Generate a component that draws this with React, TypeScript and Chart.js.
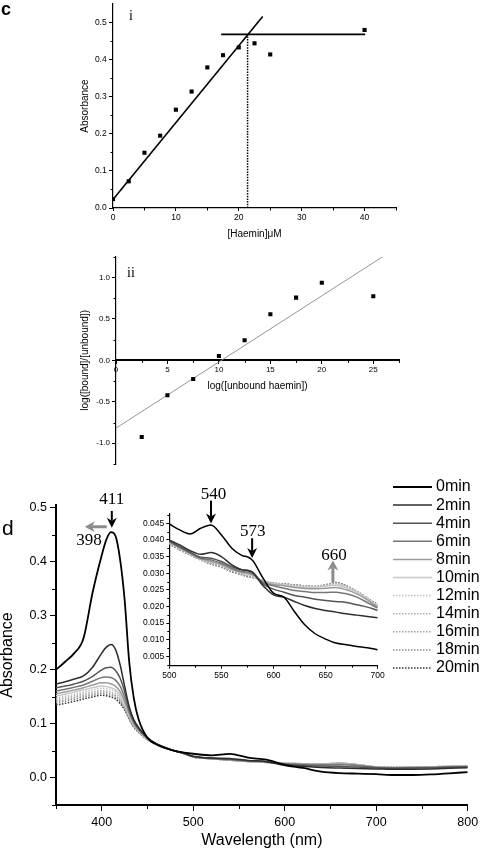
import React, { useEffect, useRef } from 'react';
import { Chart, registerables } from 'chart.js';

Chart.register(...registerables);

const SANS = '"Liberation Sans", Arial, Helvetica, sans-serif';
const SERIF = '"Liberation Serif", "Times New Roman", serif';

// ---------- Panel c (i): absorbance vs haemin ----------
const HAEMIN_UM = [0, 2.5, 5, 7.5, 10, 12.5, 15, 17.5, 20, 22.5, 25, 40];
const ABSORBANCE_I = [0.024, 0.072, 0.149, 0.195, 0.265, 0.314, 0.379, 0.412, 0.433, 0.444, 0.414, 0.48];
const FIT_I_X = [0, 23.8];
const FIT_I_Y = [0.023, 0.516];
const PLATEAU_X = [17.2, 40.1];
const PLATEAU_Y = [0.468, 0.468];
const BREAK_X = [21.4, 21.4];
const BREAK_Y = [0, 0.468];
const I_X_TICKS = [0, 10, 20, 30, 40];
const I_X_MINOR = [5, 15, 25, 35, 45];
const I_Y_TICKS = [0, 0.1, 0.2, 0.3, 0.4, 0.5];
const I_Y_MINOR = [0.05, 0.15, 0.25, 0.35, 0.45];

// ---------- Panel c (ii): log plot ----------
const UNBOUND_X = [2.5, 5, 7.5, 10, 12.5, 15, 17.5, 20, 25];
const LOG_RATIO = [-0.925, -0.42, -0.225, 0.053, 0.242, 0.556, 0.757, 0.935, 0.773];
const FIT_II_X = [0, 25.9];
const FIT_II_Y = [-0.817, 1.249];
const II_X_TICKS = [0, 5, 10, 15, 20, 25];
const II_X_MINOR = [2.5, 7.5, 12.5, 17.5, 22.5, 27.5];
const II_Y_TICKS = [-1, -0.5, 0, 0.5, 1];
const II_Y_MINOR = [-1.25, -0.75, -0.25, 0.25, 0.75, 1.25];

// ---------- Panel d: spectra ----------
const TIME_LABELS = ['0min', '2min', '4min', '6min', '8min', '10min', '12min', '14min', '16min', '18min', '20min'];
const WAVELENGTH = [350, 360, 370, 380, 390, 400, 405, 410, 415, 420, 425, 430, 435, 440, 450, 460, 470, 480, 490,
  500, 520, 540, 560, 580, 600, 620, 640, 660, 680, 700, 720, 740, 760, 780, 800];
const ABS_0 = [0.200, 0.215, 0.231, 0.258, 0.343, 0.412, 0.441, 0.455, 0.448, 0.405, 0.330, 0.215, 0.148, 0.110, 0.074, 0.062, 0.055, 0.050, 0.047,
  0.0448, 0.0418, 0.0445, 0.0375, 0.0338, 0.0240, 0.0185, 0.0118, 0.0090, 0.0080, 0.0070, 0.0055, 0.0055, 0.0065, 0.0085, 0.0110];
const ABS_2 = [0.174, 0.178, 0.183, 0.189, 0.205, 0.231, 0.242, 0.247, 0.238, 0.210, 0.170, 0.132, 0.108, 0.094, 0.075, 0.063, 0.056, 0.050, 0.046,
  0.0400, 0.0368, 0.0362, 0.0325, 0.0302, 0.0235, 0.0215, 0.0194, 0.0183, 0.0174, 0.0166, 0.0160, 0.0162, 0.0168, 0.0178, 0.0188];
const ABS_4 = [0.167, 0.170, 0.174, 0.179, 0.188, 0.200, 0.204, 0.205, 0.199, 0.185, 0.160, 0.128, 0.106, 0.092, 0.074, 0.063, 0.056, 0.050, 0.045,
  0.0397, 0.0363, 0.0345, 0.0320, 0.0303, 0.0252, 0.0233, 0.0222, 0.0215, 0.0205, 0.0188, 0.0180, 0.0183, 0.0190, 0.0198, 0.0205];
const ABS_6 = [0.161, 0.164, 0.168, 0.172, 0.179, 0.186, 0.187, 0.186, 0.181, 0.170, 0.150, 0.123, 0.103, 0.090, 0.073, 0.062, 0.055, 0.050, 0.045,
  0.0395, 0.0361, 0.0340, 0.0315, 0.0298, 0.0262, 0.0248, 0.0242, 0.0243, 0.0228, 0.0195, 0.0185, 0.0190, 0.0196, 0.0204, 0.0210];
const ABS_8 = [0.156, 0.159, 0.163, 0.167, 0.172, 0.176, 0.176, 0.174, 0.170, 0.160, 0.142, 0.119, 0.101, 0.089, 0.073, 0.062, 0.055, 0.050, 0.045,
  0.0393, 0.0359, 0.0336, 0.0312, 0.0295, 0.0266, 0.0257, 0.0253, 0.0257, 0.0238, 0.0198, 0.0189, 0.0194, 0.0200, 0.0208, 0.0213];
const ABS_10 = [0.152, 0.155, 0.159, 0.163, 0.167, 0.170, 0.169, 0.167, 0.163, 0.154, 0.138, 0.116, 0.099, 0.088, 0.072, 0.062, 0.055, 0.050, 0.045,
  0.0392, 0.0358, 0.0334, 0.0310, 0.0293, 0.0268, 0.0260, 0.0258, 0.0264, 0.0243, 0.0200, 0.0191, 0.0196, 0.0202, 0.0210, 0.0215];
const ABS_12 = [0.148, 0.151, 0.155, 0.159, 0.163, 0.166, 0.165, 0.163, 0.159, 0.150, 0.135, 0.114, 0.098, 0.087, 0.072, 0.062, 0.055, 0.050, 0.045,
  0.0391, 0.0357, 0.0332, 0.0309, 0.0291, 0.0269, 0.0262, 0.0259, 0.0267, 0.0244, 0.0201, 0.0192, 0.0197, 0.0203, 0.0211, 0.0216];
const ABS_14 = [0.145, 0.148, 0.152, 0.156, 0.159, 0.162, 0.161, 0.159, 0.155, 0.147, 0.132, 0.112, 0.097, 0.087, 0.072, 0.062, 0.055, 0.050, 0.045,
  0.0390, 0.0356, 0.0331, 0.0308, 0.0290, 0.0269, 0.0263, 0.0260, 0.0269, 0.0245, 0.0202, 0.0193, 0.0198, 0.0204, 0.0212, 0.0217];
const ABS_16 = [0.142, 0.145, 0.149, 0.153, 0.156, 0.159, 0.158, 0.156, 0.152, 0.144, 0.130, 0.111, 0.096, 0.086, 0.071, 0.062, 0.055, 0.050, 0.045,
  0.0389, 0.0356, 0.0330, 0.0307, 0.0289, 0.0270, 0.0264, 0.0260, 0.0270, 0.0245, 0.0203, 0.0194, 0.0199, 0.0205, 0.0213, 0.0218];
const ABS_18 = [0.139, 0.142, 0.146, 0.150, 0.153, 0.156, 0.155, 0.153, 0.149, 0.141, 0.128, 0.110, 0.095, 0.086, 0.071, 0.062, 0.055, 0.050, 0.045,
  0.0389, 0.0355, 0.0329, 0.0306, 0.0288, 0.0270, 0.0264, 0.0260, 0.0271, 0.0245, 0.0204, 0.0195, 0.0200, 0.0206, 0.0214, 0.0219];
const ABS_20 = [0.135, 0.138, 0.142, 0.146, 0.150, 0.153, 0.152, 0.150, 0.146, 0.138, 0.126, 0.109, 0.094, 0.085, 0.071, 0.062, 0.055, 0.050, 0.045,
  0.0388, 0.0355, 0.0328, 0.0305, 0.0287, 0.0270, 0.0265, 0.0260, 0.0272, 0.0245, 0.0205, 0.0196, 0.0201, 0.0207, 0.0215, 0.0220];
const D_X_TICKS = [400, 500, 600, 700, 800];
const D_X_MINOR = [350, 450, 550, 650, 750];
const D_Y_TICKS = [0, 0.1, 0.2, 0.3, 0.4, 0.5];
const D_Y_MINOR = [-0.05, 0.05, 0.15, 0.25, 0.35, 0.45];

// ---------- Inset (500-700 nm) ----------
const INSET_WAVELENGTH = [500, 510, 520, 530, 540, 550, 560, 570, 575, 580, 590, 600, 610, 620, 630, 640, 650, 660, 670, 680, 690, 700];
const IN_0 = [0.0448, 0.0430, 0.0418, 0.0435, 0.0445, 0.0415, 0.0375, 0.0353, 0.0349, 0.0338, 0.0285, 0.0240, 0.0228, 0.0185, 0.0145, 0.0118, 0.0102, 0.0090, 0.0085, 0.0080, 0.0076, 0.0070];
const IN_2 = [0.0400, 0.0385, 0.0368, 0.0357, 0.0362, 0.0350, 0.0325, 0.0310, 0.0308, 0.0302, 0.0262, 0.0235, 0.0228, 0.0215, 0.0203, 0.0194, 0.0188, 0.0183, 0.0178, 0.0174, 0.0170, 0.0166];
const IN_4 = [0.0397, 0.0380, 0.0363, 0.0348, 0.0345, 0.0335, 0.0320, 0.0310, 0.0309, 0.0303, 0.0268, 0.0252, 0.0243, 0.0233, 0.0228, 0.0222, 0.0218, 0.0215, 0.0212, 0.0205, 0.0198, 0.0188];
const IN_6 = [0.0395, 0.0378, 0.0361, 0.0345, 0.0340, 0.0330, 0.0315, 0.0305, 0.0303, 0.0298, 0.0272, 0.0262, 0.0255, 0.0248, 0.0245, 0.0242, 0.0242, 0.0243, 0.0238, 0.0228, 0.0212, 0.0195];
const IN_8 = [0.0393, 0.0376, 0.0359, 0.0343, 0.0336, 0.0326, 0.0312, 0.0302, 0.0300, 0.0295, 0.0274, 0.0266, 0.0262, 0.0257, 0.0254, 0.0253, 0.0255, 0.0257, 0.0250, 0.0238, 0.0220, 0.0198];
const IN_10 = [0.0392, 0.0375, 0.0358, 0.0342, 0.0334, 0.0324, 0.0310, 0.0300, 0.0298, 0.0293, 0.0275, 0.0268, 0.0264, 0.0260, 0.0258, 0.0258, 0.0261, 0.0264, 0.0256, 0.0243, 0.0223, 0.0200];
const IN_12 = [0.0391, 0.0374, 0.0357, 0.0341, 0.0332, 0.0322, 0.0309, 0.0299, 0.0296, 0.0291, 0.0276, 0.0269, 0.0265, 0.0262, 0.0260, 0.0259, 0.0263, 0.0267, 0.0258, 0.0244, 0.0224, 0.0201];
const IN_14 = [0.0390, 0.0373, 0.0356, 0.0341, 0.0331, 0.0321, 0.0308, 0.0298, 0.0294, 0.0290, 0.0276, 0.0269, 0.0266, 0.0263, 0.0261, 0.0260, 0.0264, 0.0269, 0.0260, 0.0245, 0.0224, 0.0202];
const IN_16 = [0.0389, 0.0372, 0.0356, 0.0340, 0.0330, 0.0320, 0.0307, 0.0297, 0.0293, 0.0289, 0.0277, 0.0270, 0.0267, 0.0264, 0.0261, 0.0260, 0.0265, 0.0270, 0.0261, 0.0245, 0.0225, 0.0203];
const IN_18 = [0.0389, 0.0371, 0.0355, 0.0340, 0.0329, 0.0319, 0.0306, 0.0296, 0.0291, 0.0288, 0.0277, 0.0270, 0.0267, 0.0264, 0.0262, 0.0260, 0.0265, 0.0271, 0.0261, 0.0245, 0.0225, 0.0204];
const IN_20 = [0.0388, 0.0370, 0.0355, 0.0340, 0.0328, 0.0318, 0.0305, 0.0295, 0.0290, 0.0287, 0.0278, 0.0270, 0.0268, 0.0265, 0.0262, 0.0260, 0.0265, 0.0272, 0.0262, 0.0245, 0.0225, 0.0205];
const IN_X_TICKS = [500, 550, 600, 650, 700];
const IN_X_MINOR = [525, 575, 625, 675];
const IN_Y_TICKS = [0.005, 0.01, 0.015, 0.02, 0.025, 0.03, 0.035, 0.04, 0.045];
const IN_Y_MINOR = [0.0025, 0.0075, 0.0125, 0.0175, 0.0225, 0.0275, 0.0325, 0.0375, 0.0425, 0.0475];

const MAIN_SERIES = [ABS_0, ABS_2, ABS_4, ABS_6, ABS_8, ABS_10, ABS_12, ABS_14, ABS_16, ABS_18, ABS_20];
const INSET_SERIES = [IN_0, IN_2, IN_4, IN_6, IN_8, IN_10, IN_12, IN_14, IN_16, IN_18, IN_20];

// line styles (kept apart from data)
const LINE_STYLES = [
  { color: '#000000', width: 1.8, dash: [] as number[] },
  { color: '#2e2e2e', width: 1.5, dash: [] as number[] },
  { color: '#555555', width: 1.5, dash: [] as number[] },
  { color: '#777777', width: 1.5, dash: [] as number[] },
  { color: '#9c9c9c', width: 1.5, dash: [] as number[] },
  { color: '#c8c8c8', width: 1.5, dash: [] as number[] },
  { color: '#c0c0c0', width: 1.5, dash: [1.5, 1.5] },
  { color: '#b0b0b0', width: 1.5, dash: [1.5, 1.5] },
  { color: '#a0a0a0', width: 1.5, dash: [1.5, 1.5] },
  { color: '#8c8c8c', width: 1.5, dash: [1.5, 1.5] },
  { color: '#333333', width: 1.5, dash: [1.5, 1.5] },
];

type Pt = { x: number; y: number };
const pts = (xs: number[], ys: number[]): Pt[] => xs.map((x, i) => ({ x, y: ys[i] }));
const fmt = (d: number) => (v: number | string) => Number(v).toFixed(d);

function axis(o: any) {
  return {
    type: 'linear',
    min: o.min,
    max: o.max,
    ...(o.position ? { position: o.position } : {}),
    afterBuildTicks: (s: any) => {
      s.ticks = o.ticks.map((v: number) => ({ value: v }));
    },
    afterFit: (s: any) => {
      if (s.isHorizontal()) s.height = o.size;
      else s.width = o.size;
      s.paddingTop = 0;
      s.paddingBottom = 0;
      s.paddingLeft = 0;
      s.paddingRight = 0;
    },
    ticks: {
      callback: (v: any) => o.fmt(v),
      font: { family: SANS, size: o.font },
      color: '#000',
      padding: o.pad,
      maxRotation: 0,
      minRotation: 0,
      autoSkip: false,
    },
    grid: { drawOnChartArea: false, drawTicks: true, tickLength: o.tickLen, tickColor: '#000', tickWidth: 1 },
    border: { display: true, color: '#000', width: o.border },
    title: o.title
      ? {
          display: true,
          text: o.title.text,
          color: '#000',
          font: { family: SANS, size: o.title.size, lineHeight: o.title.lh ?? 1.2 },
          padding: { top: o.title.pt ?? 0, bottom: o.title.pb ?? 0 },
        }
      : { display: false },
  };
}

type MinorSpec = { axis: 'x' | 'y'; values: number[]; len: number; atY?: number };
function minorTicks(items: MinorSpec[]) {
  return {
    id: 'minorTicks',
    afterDraw(chart: any) {
      const ctx = chart.ctx as CanvasRenderingContext2D;
      const area = chart.chartArea;
      ctx.save();
      ctx.strokeStyle = '#000';
      ctx.lineWidth = 1;
      ctx.beginPath();
      for (const it of items) {
        const s = chart.scales[it.axis];
        for (const v of it.values) {
          if (it.axis === 'x') {
            const x = Math.round(s.getPixelForValue(v)) + 0.5;
            const y0 = it.atY !== undefined ? chart.scales.y.getPixelForValue(it.atY) : area.bottom;
            ctx.moveTo(x, y0);
            ctx.lineTo(x, y0 + it.len);
          } else {
            const y = Math.round(s.getPixelForValue(v)) + 0.5;
            ctx.moveTo(area.left, y);
            ctx.lineTo(area.left - it.len, y);
          }
        }
      }
      ctx.stroke();
      ctx.restore();
    },
  };
}

function overlay(draw: (chart: any, ctx: CanvasRenderingContext2D) => void) {
  return {
    id: 'overlay',
    afterDraw(chart: any) {
      const ctx = chart.ctx as CanvasRenderingContext2D;
      ctx.save();
      draw(chart, ctx);
      ctx.restore();
    },
  };
}

function drawText(ctx: CanvasRenderingContext2D, s: string, x: number, y: number, font: string, align: CanvasTextAlign = 'center', baseline: CanvasTextBaseline = 'middle', color = '#000') {
  ctx.font = font;
  ctx.fillStyle = color;
  ctx.textAlign = align;
  ctx.textBaseline = baseline;
  ctx.fillText(s, x, y);
}

function drawArrow(ctx: CanvasRenderingContext2D, x1: number, y1: number, x2: number, y2: number, color: string, width: number, headLen: number, headHalf: number) {
  const a = Math.atan2(y2 - y1, x2 - x1);
  const c = Math.cos(a);
  const s = Math.sin(a);
  const bx = x2 - headLen * c;
  const by = y2 - headLen * s;
  const nx = x2 - headLen * 0.7 * c;
  const ny = y2 - headLen * 0.7 * s;
  ctx.strokeStyle = color;
  ctx.fillStyle = color;
  ctx.lineWidth = width;
  ctx.beginPath();
  ctx.moveTo(x1, y1);
  ctx.lineTo(nx, ny);
  ctx.stroke();
  ctx.beginPath();
  ctx.moveTo(x2, y2);
  ctx.lineTo(bx - headHalf * s, by + headHalf * c);
  ctx.lineTo(nx, ny);
  ctx.lineTo(bx + headHalf * s, by - headHalf * c);
  ctx.closePath();
  ctx.fill();
}

const baseOptions = (padding: any) => ({
  responsive: false,
  animation: false,
  events: [] as string[],
  layout: { padding },
  plugins: { legend: { display: false }, tooltip: { enabled: false } },
});

// ---------- configs ----------
const panelIConfig = () => ({
  type: 'scatter',
  data: {
    datasets: [
      { data: pts(HAEMIN_UM, ABSORBANCE_I), pointStyle: 'rect', pointRadius: 2.9, backgroundColor: '#000', borderColor: '#000', borderWidth: 0, showLine: false },
      { data: pts(FIT_I_X, FIT_I_Y), showLine: true, borderColor: '#000', borderWidth: 1.6, pointRadius: 0 },
      { data: pts(PLATEAU_X, PLATEAU_Y), showLine: true, borderColor: '#000', borderWidth: 1.6, pointRadius: 0 },
      { data: pts(BREAK_X, BREAK_Y), showLine: true, borderColor: '#000', borderWidth: 1.5, borderDash: [1.5, 1.2], pointRadius: 0 },
    ],
  },
  options: {
    ...baseOptions({ left: 0, top: 0, right: 84, bottom: 2 }),
    scales: {
      x: axis({ min: 0, max: 45, ticks: I_X_TICKS, fmt: fmt(0), size: 32, font: 8.5, tickLen: 3, pad: 2, border: 1.2, title: { text: '[Haemin]μM', size: 10, pb: 0 } }),
      y: axis({ min: 0, max: 0.55, ticks: I_Y_TICKS, fmt: fmt(1), size: 113, font: 8.5, tickLen: 4, pad: 2.3, border: 1.2, title: { text: 'Absorbance', size: 10, pt: 79 } }),
    },
  },
  plugins: [
    minorTicks([
      { axis: 'x', values: I_X_MINOR, len: 2.5 },
      { axis: 'y', values: I_Y_MINOR, len: 2.5 },
    ]),
    overlay((chart, ctx) => {
      drawText(ctx, 'c', 1, 15, `bold 18px ${SANS}`, 'left', 'alphabetic');
      drawText(ctx, 'i', chart.chartArea.left + 16, 20, `14px ${SERIF}`, 'left', 'alphabetic');
    }),
  ],
});

const panelIIConfig = () => ({
  type: 'scatter',
  data: {
    datasets: [
      { data: pts(UNBOUND_X, LOG_RATIO), pointStyle: 'rect', pointRadius: 2.9, backgroundColor: '#000', borderColor: '#000', borderWidth: 0, showLine: false },
      { data: pts(FIT_II_X, FIT_II_Y), showLine: true, borderColor: '#8a8a8a', borderWidth: 0.9, pointRadius: 0 },
    ],
  },
  options: {
    ...baseOptions({ left: 0, top: 12.7, right: 81, bottom: 6 }),
    scales: {
      x: axis({ min: 0, max: 27.5, position: { y: 0 }, ticks: II_X_TICKS, fmt: fmt(0), size: 40, font: 8, tickLen: 3, pad: 2, border: 2, title: { text: 'log([unbound haemin])', size: 10, pb: 8.3 } }),
      y: axis({ min: -1.25, max: 1.25, ticks: II_Y_TICKS, fmt: fmt(1), size: 116, font: 8, tickLen: 4, pad: 2, border: 1.2, title: { text: 'log([bound]/[unbound])', size: 10, pt: 79 } }),
    },
  },
  plugins: [
    minorTicks([
      { axis: 'x', values: II_X_MINOR, len: 2.5, atY: 0 },
      { axis: 'y', values: II_Y_MINOR, len: 2.5 },
    ]),
    overlay((chart, ctx) => {
      drawText(ctx, 'ii', chart.chartArea.left + 11, 33, `14px ${SERIF}`, 'left', 'alphabetic');
    }),
  ],
});

const mainConfig = () => ({
  type: 'line',
  data: {
    datasets: MAIN_SERIES.map((s, i) => ({
      label: TIME_LABELS[i],
      data: pts(WAVELENGTH, s),
      borderColor: LINE_STYLES[i].color,
      borderWidth: LINE_STYLES[i].width,
      borderDash: LINE_STYLES[i].dash,
      pointRadius: 0,
      fill: false,
      cubicInterpolationMode: 'monotone',
    })),
  },
  options: {
    ...baseOptions({ left: 0, top: 35, right: 12.3, bottom: 0 }),
    scales: {
      x: axis({ min: 350, max: 800, ticks: D_X_TICKS, fmt: fmt(0), size: 45, font: 12.5, tickLen: 6, pad: 4, border: 2, title: { text: 'Wavelength (nm)', size: 16, pb: 0 } }),
      y: axis({ min: -0.05, max: 0.505, ticks: D_Y_TICKS, fmt: fmt(1), size: 56, font: 12.5, tickLen: 6, pad: 3, border: 2, title: { text: 'Absorbance', size: 16, lh: 1, pt: 0 } }),
    },
  },
  plugins: [
    minorTicks([
      { axis: 'x', values: D_X_MINOR, len: 4 },
      { axis: 'y', values: D_Y_MINOR, len: 4 },
    ]),
    overlay((chart, ctx) => {
      const xs = chart.scales.x;
      const ys = chart.scales.y;
      const X = (v: number) => xs.getPixelForValue(v);
      const Y = (v: number) => ys.getPixelForValue(v);
      drawText(ctx, 'd', 2, 65, `21px ${SANS}`, 'left', 'alphabetic');
      // 411 peak arrow
      drawArrow(ctx, X(411), Y(0.494), X(411), Y(0.463), '#000', 2, 10, 5);
      drawText(ctx, '411', X(411), Y(0.516), `17px ${SERIF}`);
      // blue-shift arrow
      drawArrow(ctx, X(405.5), Y(0.4647), X(381.5), Y(0.4647), '#8c8c8c', 3, 10, 5.5);
      drawText(ctx, '398', X(386), Y(0.4387), `17px ${SERIF}`);
      // legend
      const ds = chart.data.datasets;
      for (let i = 0; i < ds.length; i++) {
        const y = 17 + i * 18.1;
        ctx.save();
        ctx.strokeStyle = ds[i].borderColor;
        ctx.lineWidth = ds[i].borderWidth;
        ctx.setLineDash(ds[i].borderDash || []);
        ctx.beginPath();
        ctx.moveTo(393, y);
        ctx.lineTo(432, y);
        ctx.stroke();
        ctx.restore();
        drawText(ctx, ds[i].label, 436, y, `16px ${SANS}`, 'left', 'middle');
      }
    }),
  ],
});

const insetConfig = () => ({
  type: 'line',
  data: {
    datasets: INSET_SERIES.map((s, i) => ({
      label: TIME_LABELS[i],
      data: pts(INSET_WAVELENGTH, s),
      borderColor: LINE_STYLES[i].color,
      borderWidth: Math.min(LINE_STYLES[i].width, 1.5),
      borderDash: LINE_STYLES[i].dash,
      pointRadius: 0,
      fill: false,
      cubicInterpolationMode: 'monotone',
    })),
  },
  options: {
    ...baseOptions({ left: 0, top: 35.3, right: 12.3, bottom: 4.3 }),
    scales: {
      x: axis({ min: 500, max: 700, ticks: IN_X_TICKS, fmt: fmt(0), size: 30, font: 8.5, tickLen: 3, pad: 2, border: 1.2 }),
      y: axis({ min: 0.0022, max: 0.048, ticks: IN_Y_TICKS, fmt: fmt(3), size: 59.3, font: 8.5, tickLen: 3, pad: 2, border: 1.2 }),
    },
  },
  plugins: [
    minorTicks([
      { axis: 'x', values: IN_X_MINOR, len: 2 },
      { axis: 'y', values: IN_Y_MINOR, len: 2 },
    ]),
    overlay((chart, ctx) => {
      const X = (v: number) => chart.scales.x.getPixelForValue(v);
      const Y = (v: number) => chart.scales.y.getPixelForValue(v);
      drawText(ctx, '540', X(542.5), Y(0.0535), `17px ${SERIF}`);
      drawArrow(ctx, X(540), Y(0.0518), X(540), Y(0.0449), '#000', 2, 10, 5);
      drawText(ctx, '573', X(580), Y(0.0425), `17px ${SERIF}`);
      drawArrow(ctx, X(579.5), Y(0.0405), X(579.5), Y(0.0346), '#000', 2, 10, 5);
      drawText(ctx, '660', X(658), Y(0.0352), `17px ${SERIF}`);
      drawArrow(ctx, X(657), Y(0.0272), X(657), Y(0.0338), '#8c8c8c', 3, 10, 5.5);
    }),
  ],
});

function ChartCanvas({ left, top, width, height, config }: { left: number; top: number; width: number; height: number; config: () => any }) {
  const ref = useRef<HTMLCanvasElement>(null);
  useEffect(() => {
    const chart = new Chart(ref.current as HTMLCanvasElement, config());
    return () => chart.destroy();
  }, []);
  return (
    <canvas
      ref={ref}
      width={width}
      height={height}
      style={{ position: 'absolute', left, top, width, height, display: 'block' }}
    />
  );
}

export default function App() {
  return (
    <div style={{ position: 'absolute', left: 0, top: 0, width: 480, height: 850, background: '#fff', overflow: 'hidden' }}>
      <ChartCanvas left={0} top={0} width={480} height={242} config={panelIConfig} />
      <ChartCanvas left={0} top={244} width={480} height={226} config={panelIIConfig} />
      <ChartCanvas left={0} top={470} width={480} height={380} config={mainConfig} />
      <ChartCanvas left={110} top={478} width={280} height={222} config={insetConfig} />
    </div>
  );
}
